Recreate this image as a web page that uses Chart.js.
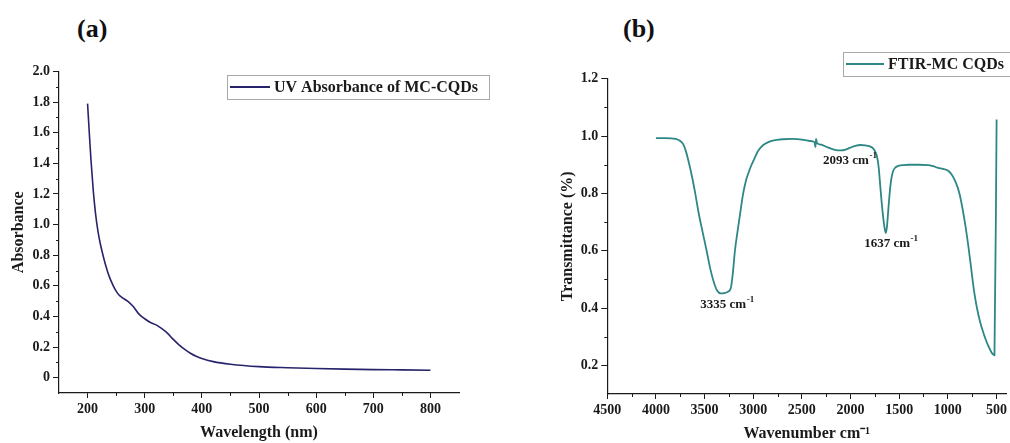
<!DOCTYPE html>
<html>
<head>
<meta charset="utf-8">
<title>UV-Vis and FTIR spectra of MC-CQDs</title>
<script src="https://cdn.jsdelivr.net/npm/chart.js@4.4.1/dist/chart.umd.min.js"></script>
<style>
  body { margin: 0; background: #fff; width: 1010px; height: 443px; overflow: hidden; position: relative; }
  .panel { position: absolute; top: 0; }
  .tag { position: absolute; top: 14px; font: bold 26px "Liberation Serif", "Times New Roman", serif; color: #111; }
</style>
</head>
<body>
<div class="tag" style="left:77px">(a)</div>
<div class="tag" style="left:623px">(b)</div>
<canvas id="uvChart" class="panel" style="left:0" width="505" height="443"></canvas>
<canvas id="ftirChart" class="panel" style="left:505px" width="505" height="443"></canvas>
<script>
// UV-Vis absorbance
const uvWavelength = [200, 203, 206, 210, 214, 218, 222, 227, 232, 238, 245, 250, 255, 260, 270, 280, 290, 300, 310, 320, 330, 340, 350, 360, 370, 380, 390, 400, 420, 450, 500, 550, 600, 650, 700, 750, 800];
const uvAbsorbance = [1.79, 1.60, 1.42, 1.22, 1.07, 0.96, 0.88, 0.80, 0.73, 0.66, 0.60, 0.565, 0.54, 0.525, 0.50, 0.465, 0.415, 0.385, 0.36, 0.345, 0.32, 0.29, 0.25, 0.215, 0.185, 0.16, 0.14, 0.125, 0.105, 0.088, 0.072, 0.065, 0.06, 0.056, 0.053, 0.051, 0.049];
const uvXTicks = [200, 300, 400, 500, 600, 700, 800];
const uvYTicks = [0, 0.2, 0.4, 0.6, 0.8, 1.0, 1.2, 1.4, 1.6, 1.8, 2.0];
const uvMinorX = [250, 350, 450, 550, 650, 750];
const uvMinorY = [0.1, 0.3, 0.5, 0.7, 0.9, 1.1, 1.3, 1.5, 1.7, 1.9];

// FTIR transmittance
const ftirWavenumber = [4000, 3900, 3800, 3750, 3720, 3690, 3660, 3630, 3596, 3560, 3520, 3479, 3440, 3400, 3370, 3335, 3300, 3260, 3230, 3210, 3188, 3160, 3130, 3103, 3070, 3040, 3017, 2990, 2950, 2900, 2850, 2800, 2700, 2600, 2500, 2420, 2370, 2360, 2354, 2345, 2300, 2250, 2200, 2150, 2100, 2050, 2000, 1950, 1900, 1850, 1800, 1770, 1745, 1725, 1710, 1695, 1680, 1665, 1650, 1637, 1625, 1612, 1600, 1585, 1565, 1540, 1500, 1450, 1400, 1300, 1200, 1150, 1100, 1050, 1000, 960, 920, 880, 850, 820, 790, 760, 730, 700, 670, 640, 610, 580, 550, 535, 520, 498];
const ftirTransmittance = [0.993, 0.993, 0.990, 0.983, 0.972, 0.945, 0.905, 0.86, 0.80, 0.73, 0.665, 0.60, 0.535, 0.485, 0.46, 0.451, 0.452, 0.457, 0.47, 0.52, 0.60, 0.67, 0.74, 0.80, 0.85, 0.88, 0.90, 0.92, 0.948, 0.968, 0.978, 0.984, 0.989, 0.99, 0.988, 0.983, 0.979, 0.962, 0.99, 0.976, 0.97, 0.963, 0.956, 0.951, 0.950, 0.953, 0.96, 0.966, 0.969, 0.968, 0.964, 0.958, 0.945, 0.925, 0.89, 0.83, 0.77, 0.72, 0.68, 0.662, 0.685, 0.74, 0.79, 0.84, 0.875, 0.89, 0.897, 0.899, 0.90, 0.90, 0.899, 0.895, 0.889, 0.886, 0.88, 0.866, 0.84, 0.80, 0.75, 0.69, 0.62, 0.54, 0.46, 0.40, 0.355, 0.32, 0.29, 0.265, 0.245, 0.238, 0.235, 1.058];
const ftirXTicks = [4500, 4000, 3500, 3000, 2500, 2000, 1500, 1000, 500];
const ftirYTicks = [0.2, 0.4, 0.6, 0.8, 1.0, 1.2];
const ftirMinorX = [4250, 3750, 3250, 2750, 2250, 1750, 1250, 750];
const ftirMinorY = [0.3, 0.5, 0.7, 0.9, 1.1];

// peak labels, anchored in data units
const peakText = ['3335', '2093', '1637'];
const peakLabelX = [3270, 2008, 1585];
const peakLabelY = [0.413, 0.913, 0.623];

const SERIF = '"Liberation Serif", "Times New Roman", serif';
const INK = '#1a1a1a';

const minorTicks = {
  id: 'minorTicks',
  afterDraw(chart, args, opts) {
    const { ctx, scales: { x, y } } = chart;
    ctx.save();
    ctx.strokeStyle = INK;
    ctx.lineWidth = 1;
    ctx.beginPath();
    opts.x.forEach(v => {
      const px = Math.round(x.getPixelForValue(v)) + 0.5;
      ctx.moveTo(px, x.top);
      ctx.lineTo(px, x.top + 3);
    });
    opts.y.forEach(v => {
      const py = Math.round(y.getPixelForValue(v)) + 0.5;
      ctx.moveTo(y.right, py);
      ctx.lineTo(y.right - 3, py);
    });
    ctx.stroke();
    ctx.restore();
  }
};

// boxed legend like the origin-style plots
const boxLegend = {
  id: 'boxLegend',
  afterDraw(chart, args, opts) {
    const { ctx } = chart;
    const ds = chart.data.datasets[0];
    ctx.save();
    ctx.fillStyle = '#fff';
    ctx.fillRect(opts.x, opts.y, opts.w, opts.h);
    ctx.strokeStyle = '#a8a8a8';
    ctx.lineWidth = 1;
    ctx.strokeRect(opts.x + 0.5, opts.y + 0.5, opts.w, opts.h);
    const cy = opts.y + opts.h / 2;
    ctx.strokeStyle = ds.borderColor;
    ctx.lineWidth = 2;
    ctx.beginPath();
    ctx.moveTo(opts.x + 3, cy);
    ctx.lineTo(opts.x + 3 + opts.line, cy);
    ctx.stroke();
    ctx.fillStyle = INK;
    ctx.font = 'bold 16px ' + SERIF;
    ctx.textBaseline = 'middle';
    ctx.fillText(ds.label, opts.x + opts.line + 7, cy + 1);
    ctx.restore();
  }
};

const peakLabels = {
  id: 'peakLabels',
  afterDatasetsDraw(chart) {
    const { ctx, scales: { x, y } } = chart;
    ctx.save();
    ctx.fillStyle = INK;
    ctx.textBaseline = 'middle';
    peakText.forEach((t, i) => {
      const main = t + ' cm';
      ctx.font = 'bold 13px ' + SERIF;
      const w1 = ctx.measureText(main).width;
      ctx.font = 'bold 9px ' + SERIF;
      const w2 = ctx.measureText('-1').width;
      const cx = x.getPixelForValue(peakLabelX[i]);
      const cy = y.getPixelForValue(peakLabelY[i]);
      const left = cx - (w1 + w2) / 2;
      ctx.font = 'bold 13px ' + SERIF;
      ctx.fillText(main, left, cy);
      ctx.font = 'bold 9px ' + SERIF;
      ctx.fillText('-1', left + w1 + 0.5, cy - 5);
    });
    ctx.restore();
  }
};

function axisStyle(tickLen, fmt) {
  return {
    grid: { drawOnChartArea: false, drawTicks: true, tickLength: tickLen, color: INK, tickColor: INK },
    border: { display: true, color: INK, width: 1.2 },
    ticks: { color: INK, font: { family: SERIF, size: 14, weight: 'bold' }, maxRotation: 0, autoSkip: false, padding: 3, callback: fmt }
  };
}

function titleStyle(text, pad) {
  return { display: true, text: text, color: INK, font: { family: SERIF, size: 16, weight: 'bold' }, padding: pad };
}

const plain = v => String(v);
const oneDecimal = v => v.toFixed(1);

new Chart(document.getElementById('uvChart'), {
  type: 'line',
  data: {
    labels: uvWavelength,
    datasets: [{
      label: 'UV Absorbance of MC-CQDs',
      data: uvWavelength.map((w, i) => ({ x: w, y: uvAbsorbance[i] })),
      borderColor: '#27246b',
      borderWidth: 1.6,
      pointRadius: 0,
      cubicInterpolationMode: 'monotone',
      fill: false
    }]
  },
  options: {
    responsive: false,
    animation: false,
    layout: { padding: { top: 71.5, right: 46, bottom: 0, left: 0 } },
    plugins: {
      legend: { display: false },
      tooltip: { enabled: false },
      minorTicks: { x: uvMinorX, y: uvMinorY },
      boxLegend: { x: 227, y: 75, w: 262, h: 24, line: 40 }
    },
    scales: {
      x: Object.assign(axisStyle(5, plain), {
        type: 'linear', min: 150, max: 850,
        afterBuildTicks: s => { s.ticks = uvXTicks.map(v => ({ value: v })); },
        afterFit: s => { s.height = 50; },
        title: titleStyle('Wavelength (nm)', { top: 0, bottom: 0.5 })
      }),
      y: Object.assign(axisStyle(6, v => (v === 0 ? '0' : v.toFixed(1))), {
        type: 'linear', min: -0.1, max: 2.0,
        afterBuildTicks: s => { s.ticks = uvYTicks.map(v => ({ value: v })); },
        afterFit: s => { s.width = 59; },
        title: titleStyle('Absorbance', { top: 9.5, bottom: 0 })
      })
    }
  },
  plugins: [minorTicks, boxLegend]
});

new Chart(document.getElementById('ftirChart'), {
  type: 'line',
  data: {
    labels: ftirWavenumber,
    datasets: [{
      label: 'FTIR-MC CQDs',
      data: ftirWavenumber.map((w, i) => ({ x: w, y: ftirTransmittance[i] })),
      borderColor: '#2c8785',
      borderWidth: 1.8,
      pointRadius: 0,
      cubicInterpolationMode: 'monotone',
      fill: false
    }]
  },
  options: {
    responsive: false,
    animation: false,
    layout: { padding: { top: 78.8, right: 3.6, bottom: 0, left: 0 } },
    plugins: {
      legend: { display: false },
      tooltip: { enabled: false },
      minorTicks: { x: ftirMinorX, y: ftirMinorY },
      boxLegend: { x: 338, y: 52, w: 200, h: 24, line: 38 }
    },
    scales: {
      x: Object.assign(axisStyle(5, plain), {
        type: 'linear', min: 400, max: 4500, reverse: true,
        afterBuildTicks: s => { s.ticks = ftirXTicks.map(v => ({ value: v })); },
        afterFit: s => { s.height = 49; },
        title: titleStyle('Wavenumber cm\u207B\u00B9', { top: 0, bottom: 0 })
      }),
      y: Object.assign(axisStyle(6, oneDecimal), {
        type: 'linear', min: 0.1, max: 1.2,
        afterBuildTicks: s => { s.ticks = ftirYTicks.map(v => ({ value: v })); },
        afterFit: s => { s.width = 102.3; },
        title: titleStyle('Transmittance (%)', { top: 53.5, bottom: 0 })
      })
    }
  },
  plugins: [minorTicks, boxLegend, peakLabels]
});
</script>
</body>
</html>
